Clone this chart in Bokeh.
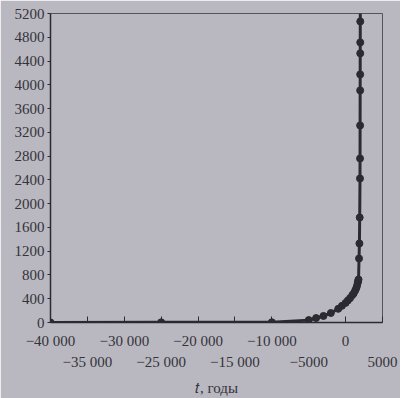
from bokeh.plotting import figure
from bokeh.models import Range1d, LinearAxis, FixedTicker
from bokeh.embed import file_html
from bokeh.resources import INLINE

# data (world population, millions)
years = [-40000, -25000, -10000, -5000, -4000, -3000, -2000, -1000, -500, 0,
         300, 600, 900, 1100, 1300, 1450, 1550, 1650, 1700, 1750, 1820, 1870,
         1910, 1950, 1955, 1965, 1972, 1975, 1980, 1983, 1987]
population = [2, 3, 4, 40, 75, 110, 160, 230, 280, 330,
              370, 410, 460, 490, 540, 580, 620, 670, 700, 724, 1077, 1330,
              1768, 2424, 2761, 3316, 3906, 4175, 4529, 4714, 5067]
line_years = years + [1992]
line_population = population + [5400]

y_ticks = list(range(0, 5201, 400))
x_ticks_upper = [-40000, -30000, -20000, -10000, 0]
x_labels_upper = ["−40 000", "−30 000", "−20 000", "−10 000", "0"]
x_ticks_lower = [-35000, -25000, -15000, -5000, 5000]
x_labels_lower = ["−35 000", "−25 000", "−15 000", "−5000", "5000"]
x_title = "\U0001D461, годы"

BG = "#b9b8c0"
INK = "#2b2a30"
TXT = "#34333a"
FONT = "Liberation Serif"
FS = "15px"

p = figure(width=400, height=398, output_backend="svg", toolbar_location=None,
           x_range=Range1d(-40000, 5000), y_range=Range1d(0, 5200),
           min_border_left=50, min_border_right=18, min_border_top=13,
           min_border_bottom=76)
p.background_fill_color = BG
p.border_fill_color = BG
p.outline_line_color = "#55545a"
p.outline_line_width = 1
p.grid.visible = False

p.line(line_years, line_population, line_color=INK, line_width=3)
p.scatter(years, population, size=7, fill_color=INK, line_color=INK)

# y axis
ya = p.yaxis[0]
ya.ticker = FixedTicker(ticks=y_ticks)
ya.major_label_overrides = {t: str(t) for t in y_ticks}
ya.major_tick_out = 3
ya.major_tick_in = 0
ya.minor_tick_line_color = None
ya.major_label_standoff = 3
ya.axis_line_color = INK
ya.axis_line_width = 1.5
ya.major_tick_line_color = INK
ya.major_label_text_font = FONT
ya.major_label_text_font_size = FS
ya.major_label_text_color = TXT

# x axis, upper row
all_x = sorted(x_ticks_upper + x_ticks_lower)
xa = p.xaxis[0]
xa.ticker = FixedTicker(ticks=all_x)
ov = {t: "" for t in all_x}
ov.update(dict(zip(x_ticks_upper, x_labels_upper)))
xa.major_label_overrides = ov
xa.major_tick_out = 0
xa.major_tick_in = 6
xa.minor_tick_line_color = None
xa.major_label_standoff = 10
xa.axis_line_color = INK
xa.axis_line_width = 1.5
xa.major_tick_line_color = INK
xa.major_label_text_font = FONT
xa.major_label_text_font_size = FS
xa.major_label_text_color = TXT

# x axis, lower row with axis title
xb = LinearAxis(ticker=FixedTicker(ticks=x_ticks_lower),
                major_label_overrides=dict(zip(x_ticks_lower, x_labels_lower)))
xb.axis_line_color = None
xb.major_tick_line_color = None
xb.minor_tick_line_color = None
xb.major_tick_out = 0
xb.major_tick_in = 0
xb.major_label_standoff = 2
xb.major_label_text_font = FONT
xb.major_label_text_font_size = FS
xb.major_label_text_color = TXT
xb.axis_label = x_title
xb.axis_label_standoff = 7
xb.axis_label_text_font = FONT
xb.axis_label_text_font_size = FS
xb.axis_label_text_font_style = "normal"
xb.axis_label_text_color = TXT
p.add_layout(xb, "below")

open("out.html", "w").write(file_html(p, INLINE))
